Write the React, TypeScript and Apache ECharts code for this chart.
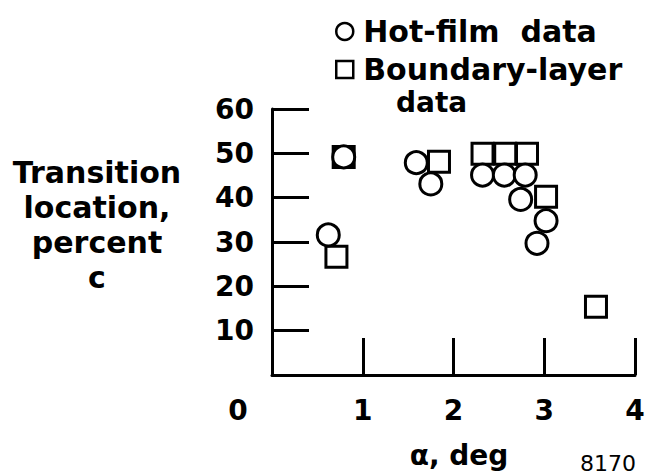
import React, { useEffect, useRef } from "react";
import * as echarts from "echarts";

// Hot-film data (circles)
const hotFilmAlpha = [0.79, 0.62, 1.59, 1.75, 2.32, 2.56, 2.79, 2.74, 3.02, 2.92];
const hotFilmPct = [49.2, 31.6, 47.9, 43.1, 45.1, 45.1, 45.1, 39.6, 34.8, 29.7];

// Boundary-layer data (squares)
const boundaryAlpha = [0.79, 0.71, 1.84, 2.32, 2.57, 2.81, 3.02, 3.57];
const boundaryPct = [49.2, 26.7, 48.1, 49.9, 49.9, 49.9, 40.2, 15.4];

const xMin = 0;
const xMax = 4;
const xStep = 1;
const yMin = 0;
const yMax = 60;
const yStep = 10;

const hotFilmName = "Hot-film  data";
const boundaryName = "Boundary-layer data";
const yTitle = "Transition\nlocation,\npercent\nc";
const xTitle = "α, deg";
const figureNumber = "8170";

const FONT = "DejaVu Sans";

export default function App() {
  const ref = useRef<HTMLDivElement>(null);

  useEffect(() => {
    document.body.style.margin = "0";
    if (!ref.current) return;
    const chart = echarts.init(ref.current, undefined, { renderer: "svg" });

    const hotFilm = hotFilmAlpha.map((a, i) => [a, hotFilmPct[i]]);
    const boundary = boundaryAlpha.map((a, i) =>
      i === 0
        ? { value: [a, boundaryPct[i]], itemStyle: { color: "#000" } }
        : [a, boundaryPct[i]]
    );

    const boldText = {
      fontFamily: FONT,
      fontWeight: "bold" as const,
      color: "#000",
    };

    chart.setOption({
      animation: false,
      backgroundColor: "#fff",
      grid: {
        left: 272,
        right: 25,
        top: 109,
        bottom: 101,
        containLabel: false,
        outerBoundsMode: "none",
      },
      legend: {
        orient: "vertical",
        left: 330,
        top: 10,
        itemGap: 5,
        itemWidth: 17,
        itemHeight: 17,
        selectedMode: false,
        formatter: (name: string) =>
          name === boundaryName ? "Boundary-layer" : name,
        textStyle: {
          ...boldText,
          fontSize: 30,
          lineHeight: 33,
          padding: [0, 0, 0, 5],
        },
        data: [
          {
            name: hotFilmName,
            icon: "circle",
            itemStyle: { color: "#fff", borderColor: "#000", borderWidth: 2.5 },
          },
          {
            name: boundaryName,
            icon: "rect",
            itemStyle: { color: "#fff", borderColor: "#000", borderWidth: 2.5 },
          },
        ],
      },
      graphic: [
        {
          type: "text",
          x: 396,
          y: 102,
          style: {
            text: "data",
            font: `bold 28px "${FONT}"`,
            fill: "#000",
            verticalAlign: "middle",
          },
        },
        {
          type: "text",
          x: 97,
          y: 225,
          style: {
            text: yTitle,
            font: `bold 30px "${FONT}"`,
            lineHeight: 35,
            fill: "#000",
            align: "center",
            verticalAlign: "middle",
          },
        },
        {
          type: "text",
          x: 580,
          y: 452,
          style: {
            text: figureNumber,
            font: `22px "${FONT}"`,
            fill: "#000",
          },
        },
      ],
      xAxis: {
        type: "value",
        min: xMin,
        max: xMax,
        interval: xStep,
        name: xTitle,
        nameLocation: "middle",
        nameGap: 80,
        nameTextStyle: {
          ...boldText,
          fontSize: 28,
          verticalAlign: "middle",
          padding: [0, 0, 0, 11],
        },
        splitLine: { show: false },
        axisLine: { lineStyle: { color: "#000", width: 3 } },
        axisTick: {
          inside: true,
          length: 37,
          lineStyle: { color: "#000", width: 3 },
        },
        axisLabel: {
          ...boldText,
          fontSize: 28,
          margin: 21,
          formatter: (v: number) => (v === 0 ? "{z|0}" : String(v)),
          rich: {
            z: {
              ...boldText,
              fontSize: 28,
              padding: [0, 68, 0, 0],
            },
          },
        },
      },
      yAxis: {
        type: "value",
        min: yMin,
        max: yMax,
        interval: yStep,
        splitLine: { show: false },
        axisLine: { lineStyle: { color: "#000", width: 3 } },
        axisTick: {
          inside: true,
          length: 37,
          lineStyle: { color: "#000", width: 3 },
        },
        axisLabel: {
          ...boldText,
          fontSize: 28,
          margin: 18,
          formatter: (v: number) => (v === 0 ? "" : String(v)),
        },
      },
      series: [
        {
          name: boundaryName,
          type: "scatter",
          symbol: "rect",
          symbolSize: 21,
          silent: true,
          z: 2,
          itemStyle: { color: "#fff", borderColor: "#000", borderWidth: 3, opacity: 1 },
          data: boundary,
        },
        {
          name: hotFilmName,
          type: "scatter",
          symbol: "circle",
          symbolSize: 22,
          silent: true,
          z: 3,
          itemStyle: { color: "#fff", borderColor: "#000", borderWidth: 3, opacity: 1 },
          data: hotFilm,
        },
      ],
    });

    return () => chart.dispose();
  }, []);

  return <div ref={ref} style={{ width: 660, height: 476 }} />;
}
